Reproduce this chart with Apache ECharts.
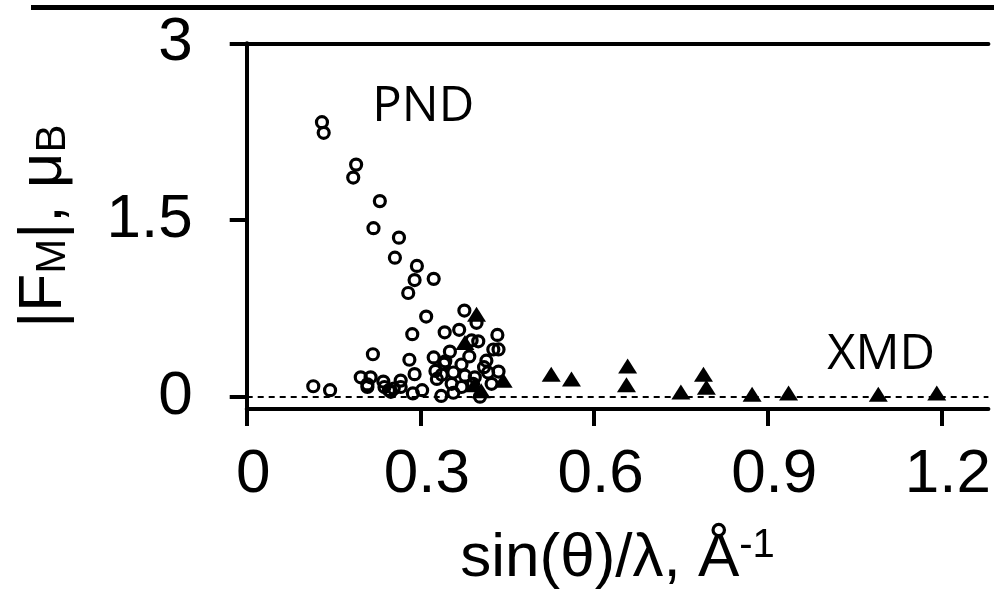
<!DOCTYPE html>
<html><head><meta charset="utf-8">
<script src="https://cdn.jsdelivr.net/npm/echarts@6/dist/echarts.min.js"></script>
<style>html,body{margin:0;padding:0;background:#fff}#c{width:994px;height:595px}</style>
</head><body><div id="c"></div>
<script>
// PND (open circles)
const pndX = [0.130,0.133,0.189,0.184,0.230,0.219,0.263,0.256,0.294,0.290,0.323,0.279,0.310,0.286,0.218,
  0.115,0.144,0.197,0.214,0.2085,0.2085,0.236,0.238,0.249,0.2457,0.266,0.266,0.287,0.303,0.290,0.281,0.254,
  0.342,0.367,0.376,0.397,0.433,0.435,0.3885,0.351,0.323,0.343,0.3845,0.414,0.435,0.326,0.337,0.357,0.371,
  0.377,0.394,0.417,0.423,0.3285,0.354,0.371,0.391,0.403,0.336,0.357,0.341,0.426,0.410,0.400];
const pndY = [2.33,2.24,1.97,1.86,1.66,1.43,1.35,1.18,1.11,0.99,1.00,0.88,0.68,0.53,0.36,
  0.088,0.055,0.164,0.164,0.104,0.082,0.128,0.082,0.041,0.055,0.136,0.082,0.027,0.055,0.191,0.313,0.068,
  0.546,0.567,0.731,0.627,0.524,0.401,0.477,0.382,0.333,0.30,0.341,0.305,0.213,0.218,0.186,0.205,0.273,
  0.178,0.164,0.205,0.109,0.15,0.109,0.082,0.109,0.0,0.006,0.033,0.280,0.400,0.250,0.470];
// XMD (filled triangles)
const xmdX = [0.397,0.377,0.443,0.393,0.405,0.526,0.561,0.658,0.656,0.750,0.789,0.794,0.873,0.936,1.091,1.192];
const xmdY = [0.70,0.46,0.14,0.10,0.05,0.19,0.15,0.26,0.10,0.04,0.19,0.08,0.02,0.03,0.02,0.03];
const xTicks = [0,0.3,0.6,0.9,1.2];
const yTicks = [0,1.5,3];

const FONT = "'Liberation Sans', Arial, sans-serif";
const chart = echarts.init(document.getElementById('c'), null, {renderer:'canvas'});
const blk = '#000';
chart.setOption({
  animation:false,
  backgroundColor:'#fff',
  grid:{left:246.7, right:0, top:43.3, bottom:172.3, containLabel:false},
  graphic:[{type:'line', shape:{x1:31,y1:7.5,x2:994,y2:7.5}, style:{stroke:blk, lineWidth:5}, silent:true}],
  xAxis:[{
    type:'value', min:0, max:1.2812, position:'bottom',
    axisLine:{show:true, onZero:false, lineStyle:{color:blk, width:4}},
    axisTick:{show:true, customValues:xTicks, length:17, lineStyle:{color:blk, width:4}},
    axisLabel:{customValues:xTicks, fontSize:62, fontFamily:FONT, color:blk, margin:35, padding:[0,0,0,13]},
    splitLine:{show:false},
    name:'{a|sin(θ)/λ, Å}{p|-1}', nameLocation:'middle', nameGap:117,
    nameTextStyle:{fontFamily:FONT, color:blk, rich:{
      a:{fontSize:62, fontFamily:FONT, color:blk, lineHeight:66},
      p:{fontSize:40, fontFamily:FONT, color:blk, lineHeight:36, verticalAlign:'top'}
    }}
  },{
    type:'value', min:0, max:1.2812, position:'top',
    axisLine:{show:true, onZero:false, lineStyle:{color:blk, width:4}},
    axisTick:{show:false}, axisLabel:{show:false}, splitLine:{show:false}
  }],
  yAxis:{
    type:'value', min:-0.105, max:3,
    axisLine:{show:true, onZero:false, lineStyle:{color:blk, width:4}},
    axisTick:{show:true, customValues:yTicks, length:17, lineStyle:{color:blk, width:4}},
    axisLabel:{customValues:yTicks, fontSize:62, fontFamily:FONT, color:blk, margin:54, padding:[0,0,8,0]},
    splitLine:{show:false},
    name:'{a||F}{s|M}{a||, μ}{s|B}', nameLocation:'middle', nameGap:172, nameRotate:90,
    nameTextStyle:{fontFamily:FONT, color:blk, rich:{
      a:{fontSize:62, fontFamily:FONT, color:blk, lineHeight:66, verticalAlign:'bottom'},
      s:{fontSize:42, fontFamily:FONT, color:blk, lineHeight:40, verticalAlign:'bottom'}
    }}
  },
  series:[{
    name:'PND', type:'scatter', symbol:'circle', symbolSize:11,
    itemStyle:{color:'rgba(0,0,0,0)', borderColor:blk, borderWidth:3.2, opacity:1},
    emphasis:{disabled:true},
    data: pndX.map((x,i)=>[x,pndY[i]]),
    markLine:{silent:true, symbol:'none', label:{show:false},
      lineStyle:{color:blk, width:2, type:[6,5], opacity:1}, emphasis:{disabled:true}, data:[{yAxis:0}]},
    markPoint:{silent:true, symbol:'circle', symbolSize:0,
      label:{show:true, position:'inside', formatter:'PND', fontSize:49, fontFamily:"'Open Sans', sans-serif", color:blk},
      data:[{coord:[0.305,2.46]}]}
  },{
    name:'XMD', type:'scatter', symbol:'triangle', symbolSize:[19,15],
    itemStyle:{color:blk, opacity:1},
    emphasis:{disabled:true},
    data: xmdX.map((x,i)=>[x,xmdY[i]]),
    markPoint:{silent:true, symbol:'circle', symbolSize:0,
      label:{show:true, position:'inside', formatter:'XMD', fontSize:49, fontFamily:"'Open Sans', sans-serif", color:blk},
      data:[{coord:[1.096,0.35]}]}
  }]
});
</script></body></html>
